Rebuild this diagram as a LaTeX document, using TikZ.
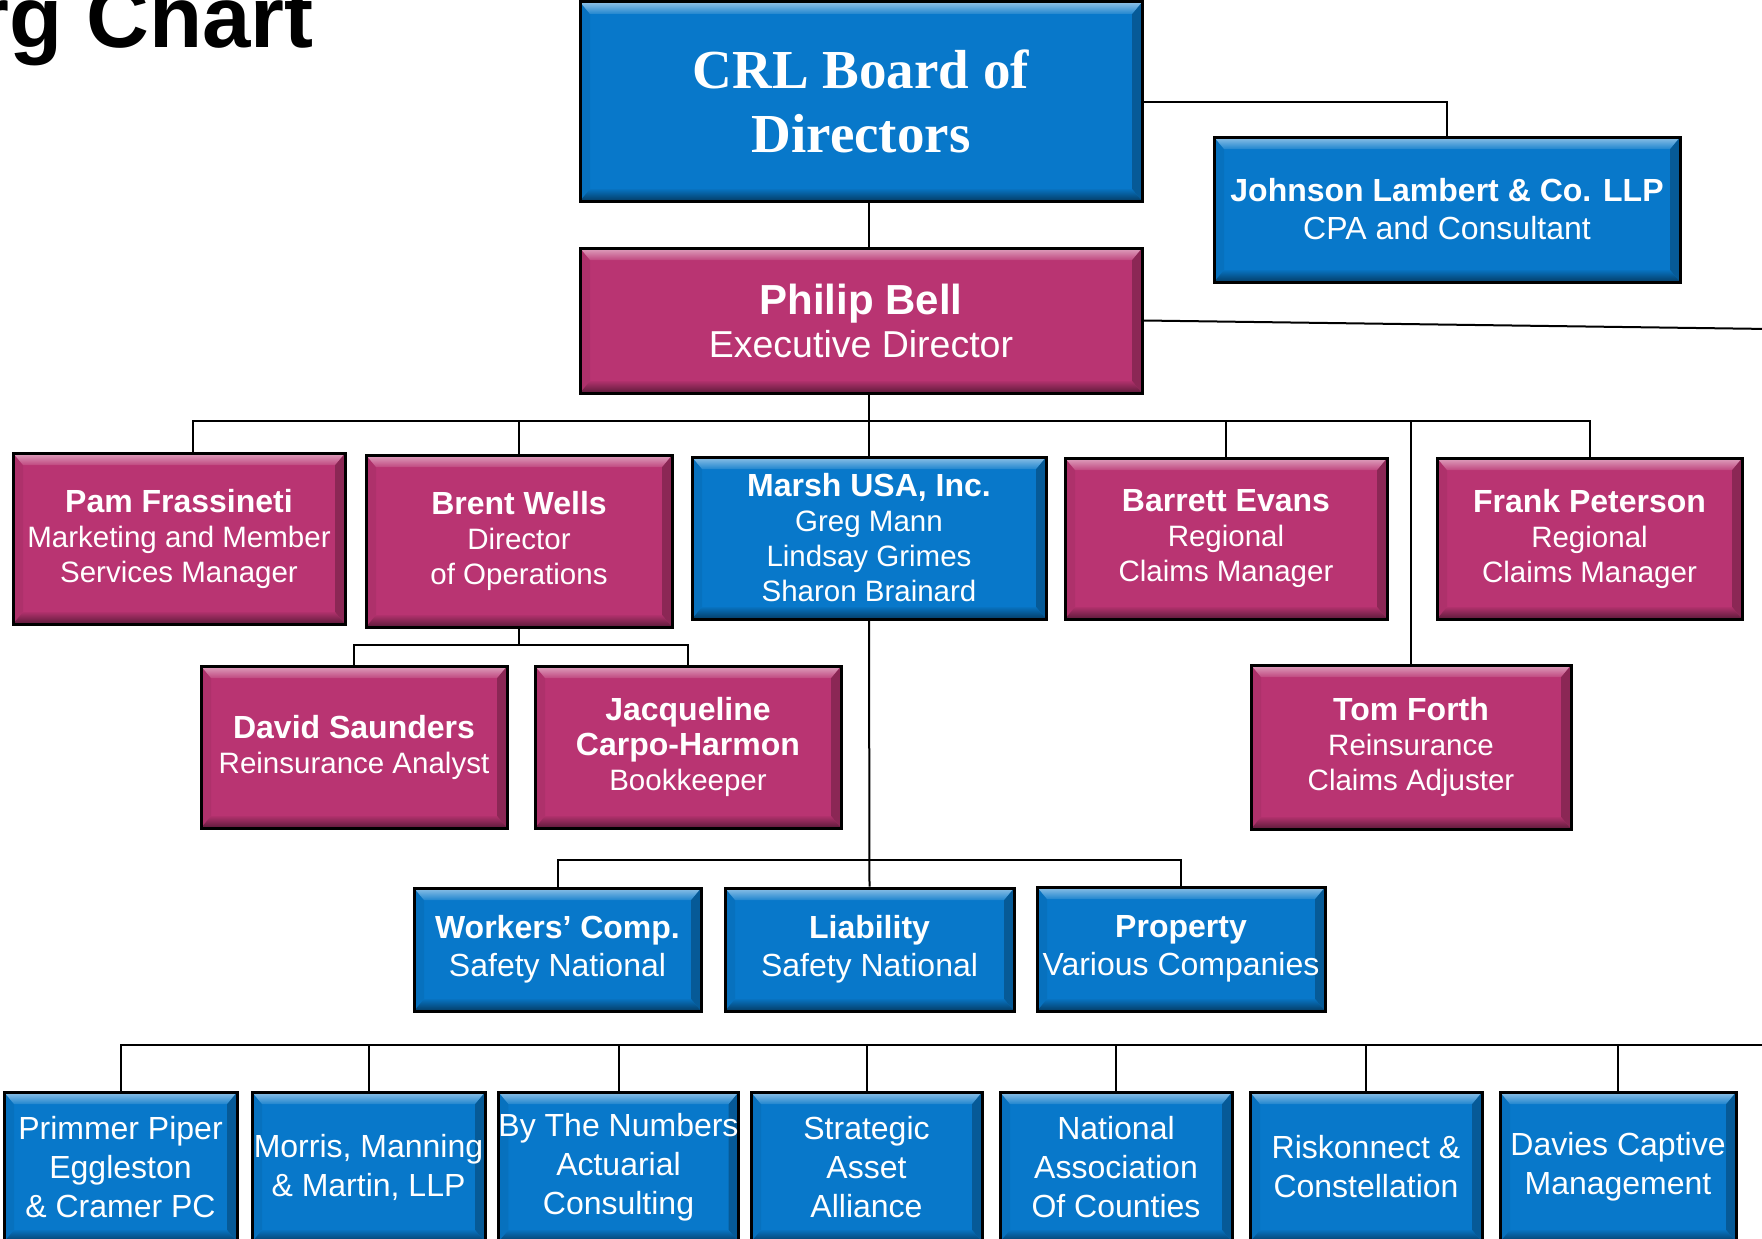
\documentclass[tikz,border=0pt]{standalone}
\usepackage{fontspec}
\setmainfont{Liberation Sans}
\newfontfamily\boardserif{Liberation Serif}
\definecolor{cardblue}{RGB}{8,120,202}
\definecolor{cardpink}{RGB}{185,52,114}
\newcommand{\persname}[1]{{\fontsize{32}{35}\selectfont\bfseries #1}}
\tikzset{
  card/.style={draw=black, line width=3pt, fill=#1, text=white, align=center, inner sep=0pt,
    path picture={
      \coordinate (tl) at (path picture bounding box.north west);
      \coordinate (br) at (path picture bounding box.south east);
      \coordinate (tr) at (tl -| br);
      \coordinate (bl) at (br -| tl);
      % bevel faces
      \fill[#1!94!black] (tl) -- ([shift={(10pt,-12pt)}]tl) -- ([shift={(10pt,12pt)}]bl) -- (bl) -- cycle;
      \fill[#1!75!black] (tr) -- ([shift={(-10pt,-12pt)}]tr) -- ([shift={(-10pt,12pt)}]br) -- (br) -- cycle;
      \shade[top color=#1!45!white, bottom color=#1!90!white]
        (tl) -- (tr) -- ([shift={(-10pt,-12pt)}]tr) -- ([shift={(10pt,-12pt)}]tl) -- cycle;
      \shade[top color=#1!95!black, bottom color=#1!50!black]
        (bl) -- (br) -- ([shift={(-10pt,12pt)}]br) -- ([shift={(10pt,12pt)}]bl) -- cycle;
    }},
  bluecard/.style={card=cardblue},
  pinkcard/.style={card=cardpink},
  rowtext/.style={font=\fontsize{29.5}{35}\selectfont},
  firmtext/.style={font=\fontsize{32}{38}\selectfont},
  baytext/.style={font=\fontsize{32}{39}\selectfont},
  wire/.style={line width=2pt, draw=black},
}
\begin{document}
\begin{tikzpicture}[x=1pt, y=-1pt]
  \useasboundingbox (0,0) rectangle (1762,1239);
  \fill[white] (0,0) rectangle (1762,1239);
  \clip (0,0) rectangle (1762,1239);
  % title, cut by the page edge
  \node[anchor=base east, inner sep=0pt, font=\fontsize{87}{90}\selectfont\bfseries] (title) at (314,48) {rg Chart};
  % bus levels and free ends
  \coordinate (bus1) at (0,421);
  \coordinate (bus2) at (0,645);
  \coordinate (bus3) at (0,860);
  \coordinate (offbell) at (1770,329);
  \coordinate (offbus) at (1770,1045);
  % board and director
  \node[bluecard, minimum width=562, minimum height=199, font=\boardserif\bfseries\fontsize{55}{64}\selectfont] (board) at (861,101.5) {CRL Board of\\Directors};
  \node[pinkcard, minimum width=562, minimum height=145, font=\fontsize{37.5}{43}\selectfont] (bell) at (861,320.5) {{\fontsize{42}{43}\selectfont\bfseries Philip Bell}\\Executive Director};
  \node[bluecard, minimum width=466, minimum height=145, firmtext] (johnson) at (1447,209.5) {{\bfseries Johnson Lambert \& Co. LLP}\\CPA and Consultant};
  % staff row
  \node[pinkcard, minimum width=332, minimum height=171, rowtext] (pam) at (179,538.5) {\persname{Pam Frassineti}\\Marketing and Member\\Services Manager};
  \node[pinkcard, minimum width=306, minimum height=172, rowtext] (brent) at (519,541) {\persname{Brent Wells}\\Director\\of Operations};
  \node[bluecard, minimum width=354, minimum height=162, rowtext] (marsh) at (869,538) {\persname{Marsh USA, Inc.}\\Greg Mann\\Lindsay Grimes\\Sharon Brainard};
  \node[pinkcard, minimum width=322, minimum height=161, rowtext] (barrett) at (1226,538.5) {\persname{Barrett Evans}\\Regional\\Claims Manager};
  \node[pinkcard, minimum width=305, minimum height=161, rowtext] (frank) at (1589.5,538.5) {\persname{Frank Peterson}\\Regional\\Claims Manager};
  % reports
  \node[pinkcard, minimum width=306, minimum height=162, rowtext] (david) at (354,747) {\persname{David Saunders}\\Reinsurance Analyst};
  \node[pinkcard, minimum width=306, minimum height=162, rowtext] (jacq) at (688,747) {\persname{Jacqueline}\\\persname{Carpo-Harmon}\\Bookkeeper};
  \node[pinkcard, minimum width=320, minimum height=164, rowtext] (tom) at (1411,747) {\persname{Tom Forth}\\Reinsurance\\Claims Adjuster};
  % lines of cover
  \node[bluecard, minimum width=287, minimum height=123, firmtext] (workers) at (557.5,949.5) {{\bfseries Workers’ Comp.}\\Safety National};
  \node[bluecard, minimum width=289, minimum height=123, firmtext] (liab) at (869.5,949.5) {{\bfseries Liability}\\Safety National};
  \node[bluecard, minimum width=288, minimum height=124, firmtext] (prop) at (1181,949) {{\bfseries Property}\\Various Companies};
  % service firms
  \node[bluecard, minimum width=233, minimum height=150, baytext] (primmer) at (120.5,1167) {Primmer Piper\\Eggleston\\\& Cramer PC};
  \node[bluecard, minimum width=233, minimum height=150, baytext] (morris) at (368.5,1167) {Morris, Manning\\\& Martin, LLP};
  \node[bluecard, minimum width=235, minimum height=150, baytext] (numbers) at (618.5,1167) {By The Numbers\\Actuarial\\Consulting};
  \node[bluecard, minimum width=231, minimum height=150, baytext] (strategic) at (866.5,1167) {Strategic\\Asset\\Alliance};
  \node[bluecard, minimum width=232, minimum height=150, baytext] (naco) at (1116,1167) {National\\Association\\Of Counties};
  \node[bluecard, minimum width=232, minimum height=150, baytext] (riskon) at (1366,1167) {Riskonnect \&\\Constellation};
  \node[bluecard, minimum width=236, minimum height=150, baytext] (davies) at (1618,1167) {Davies Captive\\Management};
  % connectors
  \draw[wire] (board.south -| marsh.north) -- (bell.north -| marsh.north);
  \draw[wire] (board.east) -| (johnson.north);
  \draw[wire] (bell.east) -- (offbell);
  \draw[wire] (bell.south -| marsh.north) -- (marsh.north);
  \draw[wire] ([xshift=14pt]pam.north) |- (frank.north |- bus1) -- (frank.north);
  \foreach \n in {brent,barrett,tom}
    \draw[wire] (\n.north) -- (\n.north |- bus1);
  \draw[wire] (brent.south) -- (brent.south |- bus2);
  \draw[wire] (david.north) |- (jacq.north |- bus2) -- (jacq.north);
  \draw[wire] (marsh.south) -- (liab.north);
  \draw[wire] (workers.north) |- (prop.north |- bus3) -- (prop.north);
  \draw[wire] (primmer.north) |- (offbus);
  \foreach \n in {morris,numbers,strategic,naco,riskon,davies}
    \draw[wire] (\n.north) -- (\n.north |- offbus);
\end{tikzpicture}
\end{document}
